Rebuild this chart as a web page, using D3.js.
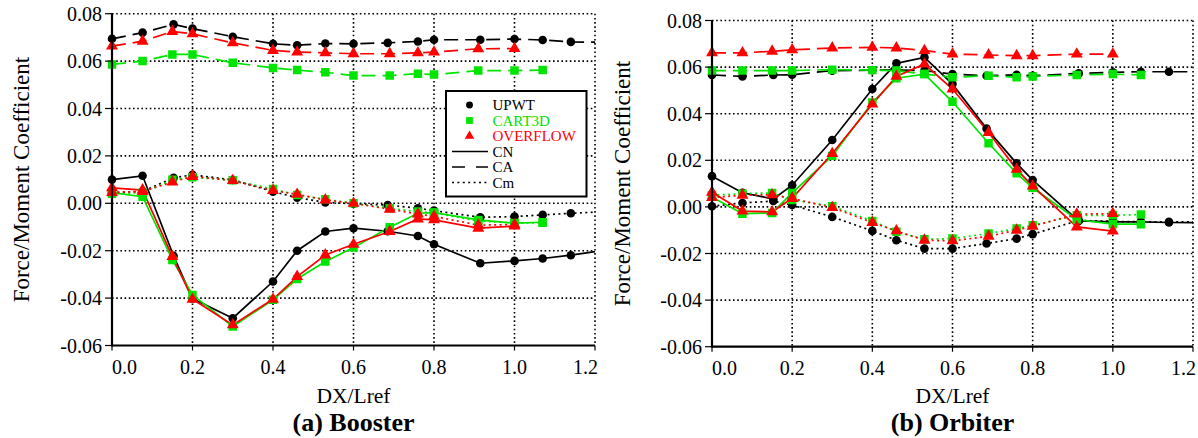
<!DOCTYPE html>
<html><head><meta charset="utf-8">
<script src="https://cdn.jsdelivr.net/npm/d3@7"></script>
<style>
body{margin:0;background:#fff}
svg{display:block}
text{font-family:"Liberation Serif","Times New Roman",serif;fill:#000}
</style>
</head><body>
<svg id="chart" width="1198" height="438"></svg>
<script>
// ---------- tick labels / categories ----------
const yTicks = [-0.06, -0.04, -0.02, 0.00, 0.02, 0.04, 0.06, 0.08];
const xTicks = [0.0, 0.2, 0.4, 0.6, 0.8, 1.0, 1.2];
const sources = ["UPWT", "CART3D", "OVERFLOW"];
const coefficients = ["CN", "CA", "Cm"];
const xTitle = "DX/Lref";
const yTitle = "Force/Moment Coefficient";
const panelTitles = ["(a) Booster", "(b) Orbiter"];

// ---------- (a) Booster ----------
const bX_UPWT = [0, 0.076, 0.153, 0.2, 0.3, 0.4, 0.46, 0.53, 0.6, 0.685, 0.76, 0.8, 0.915, 1.0, 1.07, 1.14, 1.23];
const bCN_UPWT = [0.0100, 0.0116, -0.0222, -0.0402, -0.0485, -0.0330, -0.0200, -0.0119, -0.0105, -0.0118, -0.0138, -0.0173, -0.0253, -0.0243, -0.0233, -0.0219, -0.0196];
const bCA_UPWT = [0.0694, 0.0720, 0.0755, 0.0737, 0.0703, 0.0673, 0.0667, 0.0674, 0.0673, 0.0677, 0.0683, 0.0690, 0.0690, 0.0693, 0.0689, 0.0681, 0.0679];
const bCm_UPWT = [0.0045, 0.0050, 0.0108, 0.0120, 0.0099, 0.0049, 0.0024, 0.0004, -0.0002, -0.0007, -0.0021, -0.0031, -0.0059, -0.0056, -0.0049, -0.0042, -0.0035];

const bX_CART3D = [0, 0.076, 0.15, 0.2, 0.3, 0.4, 0.46, 0.53, 0.6, 0.69, 0.76, 0.8, 0.91, 1.0, 1.07];
const bCN_CART3D = [0.0045, 0.0028, -0.0239, -0.0387, -0.0520, -0.0407, -0.0319, -0.0246, -0.0187, -0.0101, -0.0042, -0.0039, -0.0070, -0.0084, -0.0080];
const bCA_CART3D = [0.0586, 0.0600, 0.0628, 0.0628, 0.0593, 0.0571, 0.0562, 0.0553, 0.0539, 0.0539, 0.0547, 0.0543, 0.0560, 0.0560, 0.0562];
const bCm_CART3D = [0.0040, 0.0045, 0.0099, 0.0110, 0.0097, 0.0060, 0.0035, 0.0017, 0.0000, -0.0021, -0.0035, -0.0040, -0.0075, -0.0083, -0.0082];

const bX_OVERFLOW = [0, 0.076, 0.15, 0.2, 0.3, 0.4, 0.46, 0.53, 0.6, 0.69, 0.76, 0.8, 0.91, 1.0];
const bCN_OVERFLOW = [0.0065, 0.0056, -0.0225, -0.0405, -0.0513, -0.0405, -0.0309, -0.0218, -0.0173, -0.0119, -0.0066, -0.0070, -0.0105, -0.0096];
const bCA_OVERFLOW = [0.0663, 0.0684, 0.0725, 0.0715, 0.0677, 0.0645, 0.0638, 0.0635, 0.0631, 0.0631, 0.0635, 0.0638, 0.0652, 0.0653];
const bCm_OVERFLOW = [0.0045, 0.0050, 0.0090, 0.0113, 0.0096, 0.0054, 0.0038, 0.0014, 0.0000, -0.0025, -0.0045, -0.0055, -0.0092, -0.0090];

// ---------- (b) Orbiter ----------
const oX_UPWT = [0, 0.076, 0.153, 0.2, 0.3, 0.4, 0.46, 0.53, 0.6, 0.685, 0.76, 0.8, 0.915, 1.0, 1.07, 1.14, 1.23];
const oCN_UPWT = [0.0132, 0.0061, 0.0034, 0.0093, 0.0287, 0.0506, 0.0616, 0.0642, 0.0527, 0.0336, 0.0187, 0.0115, -0.0060, -0.0064, -0.0064, -0.0067, -0.0068];
const oCA_UPWT = [0.0566, 0.0560, 0.0566, 0.0567, 0.0585, 0.0587, 0.0588, 0.0585, 0.0570, 0.0563, 0.0567, 0.0563, 0.0573, 0.0578, 0.0580, 0.0580, 0.0580];
const oCm_UPWT = [0.0003, 0.0017, 0.0025, 0.0008, -0.0043, -0.0103, -0.0143, -0.0179, -0.0179, -0.0157, -0.0136, -0.0117, -0.0058, -0.0062, -0.0064, -0.0064, -0.0065];

const oX_CART3D = [0, 0.076, 0.15, 0.2, 0.3, 0.4, 0.46, 0.53, 0.6, 0.69, 0.76, 0.8, 0.91, 1.0, 1.07];
const oCN_CART3D = [0.0043, -0.0029, -0.0026, 0.0060, 0.0219, 0.0448, 0.0552, 0.0570, 0.0451, 0.0273, 0.0144, 0.0082, -0.0054, -0.0074, -0.0074];
const oCA_CART3D = [0.0585, 0.0585, 0.0585, 0.0585, 0.0589, 0.0587, 0.0585, 0.0570, 0.0556, 0.0563, 0.0556, 0.0560, 0.0566, 0.0570, 0.0566];
const oCm_CART3D = [0.0050, 0.0057, 0.0060, 0.0030, 0.0003, -0.0060, -0.0107, -0.0139, -0.0136, -0.0114, -0.0093, -0.0079, -0.0036, -0.0036, -0.0033];

const oX_OVERFLOW = [0, 0.076, 0.15, 0.2, 0.3, 0.4, 0.46, 0.53, 0.6, 0.69, 0.76, 0.8, 0.91, 1.0];
const oCN_OVERFLOW = [0.0063, -0.0018, -0.0021, 0.0037, 0.0229, 0.0441, 0.0560, 0.0613, 0.0506, 0.0319, 0.0161, 0.0089, -0.0086, -0.0104];
const oCA_OVERFLOW = [0.0661, 0.0661, 0.0668, 0.0674, 0.0682, 0.0685, 0.0682, 0.0671, 0.0656, 0.0652, 0.0649, 0.0649, 0.0656, 0.0656];
const oCm_OVERFLOW = [0.0040, 0.0050, 0.0052, 0.0036, -0.0003, -0.0067, -0.0103, -0.0143, -0.0146, -0.0126, -0.0100, -0.0083, -0.0031, -0.0029];

// ---------- styles ----------
const colors = {UPWT: "#000000", CART3D: "#00e400", OVERFLOW: "#ff0000"};
const dashes = {CN: null, CA: "14,7", Cm: "2,3.4"};

const svg = d3.select("#chart");

function markerPath(src, scale) {
  const s = scale || 1;
  if (src === "UPWT") return d3.symbol(d3.symbolCircle, 58 * s * s)();
  if (src === "CART3D") return d3.symbol(d3.symbolSquare, 72 * s * s)();
  return d3.symbol(d3.symbolTriangle, 62 * s * s)();
}

const panels = [
  {id: "b", title: panelTitles[0], left: 112, right: 595, top: 13.7, bottom: 345.5, ylabX: 29,
   data: {
     UPWT: {x: bX_UPWT, CN: bCN_UPWT, CA: bCA_UPWT, Cm: bCm_UPWT},
     CART3D: {x: bX_CART3D, CN: bCN_CART3D, CA: bCA_CART3D, Cm: bCm_CART3D},
     OVERFLOW: {x: bX_OVERFLOW, CN: bCN_OVERFLOW, CA: bCA_OVERFLOW, Cm: bCm_OVERFLOW}
   }, legend: true},
  {id: "o", title: panelTitles[1], left: 712, right: 1193, top: 20.5, bottom: 346.7, ylabX: 630,
   data: {
     UPWT: {x: oX_UPWT, CN: oCN_UPWT, CA: oCA_UPWT, Cm: oCm_UPWT},
     CART3D: {x: oX_CART3D, CN: oCN_CART3D, CA: oCA_CART3D, Cm: oCm_CART3D},
     OVERFLOW: {x: oX_OVERFLOW, CN: oCN_OVERFLOW, CA: oCA_OVERFLOW, Cm: oCm_OVERFLOW}
   }, legend: false}
];

panels.forEach(p => {
  const x = d3.scaleLinear().domain([0, 1.2]).range([p.left, p.right]);
  const y = d3.scaleLinear().domain([-0.06, 0.08]).range([p.bottom, p.top]);
  const g = svg.append("g");

  // clip
  const clipId = "clip-" + p.id;
  g.append("clipPath").attr("id", clipId).append("rect")
    .attr("x", p.left - 12).attr("y", p.top - 12)
    .attr("width", p.right - p.left + 12).attr("height", p.bottom - p.top + 24);

  // grid
  const grid = g.append("g").attr("stroke", "#000").attr("stroke-width", 1.6)
    .attr("stroke-dasharray", "1.6,2.6");
  yTicks.filter(t => t > -0.06 + 1e-9).forEach(t => {
    grid.append("line").attr("x1", p.left).attr("x2", p.right).attr("y1", y(t)).attr("y2", y(t));
  });
  xTicks.filter(t => t > 1e-9).forEach(t => {
    grid.append("line").attr("x1", x(t)).attr("x2", x(t)).attr("y1", p.top).attr("y2", p.bottom);
  });

  // series
  const plot = g.append("g").attr("clip-path", `url(#${clipId})`);
  sources.forEach(src => {
    const d = p.data[src];
    coefficients.forEach(c => {
      const pts = d.x.map((xv, i) => [xv, d[c][i]]);
      plot.append("path")
        .attr("d", d3.line().x(q => x(q[0])).y(q => y(q[1]))(pts))
        .attr("fill", "none").attr("stroke", colors[src]).attr("stroke-width", 1.7)
        .attr("stroke-dasharray", dashes[c]);
    });
  });
  sources.forEach(src => {
    const d = p.data[src];
    coefficients.forEach(c => {
      d.x.forEach((xv, i) => {
        plot.append("path").attr("d", markerPath(src))
          .attr("transform", `translate(${x(xv)},${y(d[c][i])})`)
          .attr("fill", colors[src]);
      });
    });
  });

  // axes
  const ax = g.append("g");
  ax.append("line").attr("x1", p.left).attr("x2", p.left).attr("y1", p.top).attr("y2", p.bottom + 1)
    .attr("stroke", "#000").attr("stroke-width", 2.2);
  ax.append("line").attr("x1", p.left).attr("x2", p.right).attr("y1", p.bottom).attr("y2", p.bottom)
    .attr("stroke", "#000").attr("stroke-width", 2.2);
  yTicks.forEach(t => {
    ax.append("line").attr("x1", p.left - 7).attr("x2", p.left).attr("y1", y(t)).attr("y2", y(t))
      .attr("stroke", "#000").attr("stroke-width", 1.2);
    ax.append("text").attr("x", p.left - 10).attr("y", y(t)).attr("dy", "0.35em")
      .attr("text-anchor", "end").attr("font-size", 20).text(d3.format(".2f")(t).replace("−", "-"));
  });
  xTicks.forEach((t, i) => {
    ax.append("line").attr("x1", x(t)).attr("x2", x(t)).attr("y1", p.bottom).attr("y2", p.bottom + 5)
      .attr("stroke", "#000").attr("stroke-width", 1.2);
    const anchor = i === 0 ? "start" : (i === xTicks.length - 1 ? "end" : "middle");
    ax.append("text").attr("x", x(t) + (i === xTicks.length - 1 ? 3 : 0)).attr("y", p.bottom + 28)
      .attr("text-anchor", anchor).attr("font-size", 20).text(d3.format(".1f")(t));
  });

  // titles
  const cx = (p.left + p.right) / 2;
  g.append("text").attr("x", cx).attr("y", 403).attr("text-anchor", "middle")
    .attr("font-size", 21.5).text(xTitle);
  g.append("text").attr("x", cx).attr("y", 431).attr("text-anchor", "middle")
    .attr("font-size", 26).attr("font-weight", "bold").text(p.title);
  g.append("text").attr("transform", `translate(${p.ylabX},${(p.top + p.bottom) / 2}) rotate(-90)`)
    .attr("text-anchor", "middle").attr("font-size", 23).text(yTitle);

  // legend
  if (p.legend) {
    const lg = g.append("g");
    lg.append("rect").attr("x", 446).attr("y", 91).attr("width", 140.5).attr("height", 105.5)
      .attr("fill", "#fff").attr("stroke", "#000").attr("stroke-width", 2);
    const rowY = [105, 120.5, 136, 151.5, 167, 182.5];
    sources.forEach((src, i) => {
      lg.append("path").attr("d", markerPath(src, 0.8))
        .attr("transform", `translate(469.5,${rowY[i]})`).attr("fill", colors[src]);
      lg.append("text").attr("x", 492.5).attr("y", rowY[i]).attr("dy", "0.35em")
        .attr("font-size", 15).style("fill", colors[src]).text(src);
    });
    coefficients.forEach((c, j) => {
      const ry = rowY[3 + j];
      lg.append("line").attr("x1", 452).attr("x2", 488).attr("y1", ry).attr("y2", ry)
        .attr("stroke", "#000").attr("stroke-width", 1.7)
        .attr("stroke-dasharray", c === "CA" ? "13,11" : dashes[c]);
      lg.append("text").attr("x", 492.5).attr("y", ry).attr("dy", "0.35em")
        .attr("font-size", 15).text(c);
    });
  }
});
</script>
</body></html>
